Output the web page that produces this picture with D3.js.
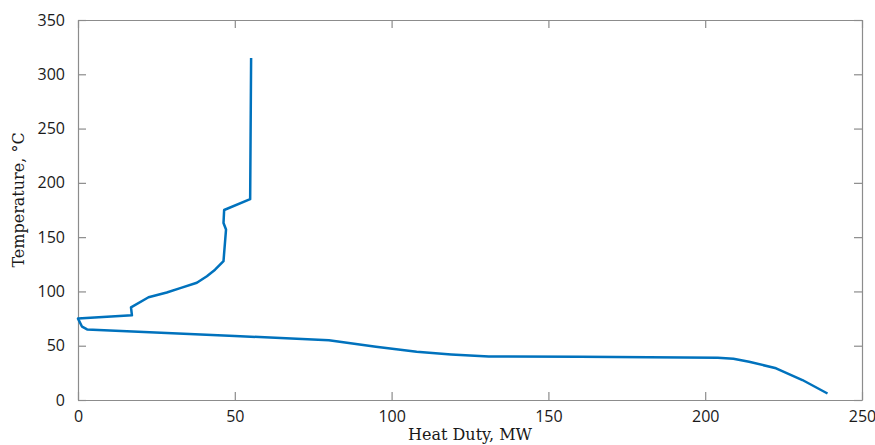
<!DOCTYPE html>
<html>
<head>
<meta charset="utf-8">
<script src="https://cdn.jsdelivr.net/npm/d3@7"></script>
<style>
  body { margin: 0; background: #fff; }
  .tick text { font-family: "Open Sans", "Liberation Sans", sans-serif; font-size: 16px; fill: #1a1a1a; }
  .axis-title { font-family: "DejaVu Serif", "Liberation Serif", serif; font-size: 16px; fill: #1a1a1a; }
</style>
</head>
<body>
<div id="chart"></div>
<script>
// heat duty (MW) and temperature (°C)
var duty = [55.2, 54.9, 46.6, 46.4, 47.2, 46.4, 43.7, 41.1, 37.9, 32.6, 28.3, 22.5, 16.9, 17.2,
            0, 1.3, 2.9, 50, 80, 95, 108, 119, 131, 160, 204, 209, 214, 222.6, 231, 239];
var temp = [315, 185, 175, 163, 157, 128, 120, 114, 108, 103, 99, 94.6, 85.3, 78,
            75, 67.5, 65, 59, 55, 49, 44.5, 42, 40, 39.8, 39, 38, 35.3, 29.2, 18.4, 6];
var xTicks = [0, 50, 100, 150, 200, 250];
var yTicks = [0, 50, 100, 150, 200, 250, 300, 350];

const W = 875, H = 445;
const margin = {left: 78, top: 20, right: 13, bottom: 45};
const width = W - margin.left - margin.right,
      height = H - margin.top - margin.bottom;

var svg = d3.select('#chart').append('svg')
    .attr('width', W)
    .attr('height', H)
    .append('g')
    .attr('transform', `translate(${margin.left}, ${margin.top})`);

var xScale = d3.scaleLinear().domain([0, 250]).range([0, width]);
var yScale = d3.scaleLinear().domain([0, 350]).range([height, 0]);

var axisColor = '#8c8c8c';

function styleAxis(g) {
  g.select('.domain').attr('stroke', axisColor).attr('stroke-width', 1.2);
  g.selectAll('.tick line').attr('stroke', axisColor).attr('stroke-width', 1.2);
}

svg.append('g')
  .attr('transform', `translate(0, ${height})`)
  .call(d3.axisBottom(xScale).tickValues(xTicks).tickSizeInner(-8).tickSizeOuter(0).tickPadding(11))
  .call(styleAxis);

svg.append('g')
  .call(d3.axisLeft(yScale).tickValues(yTicks).tickSizeInner(-8).tickSizeOuter(0).tickPadding(13))
  .call(styleAxis);

svg.append('g')
  .call(d3.axisTop(xScale).tickValues(xTicks).tickSizeInner(-8).tickSizeOuter(0).tickFormat(''))
  .call(styleAxis);

svg.append('g')
  .attr('transform', `translate(${width}, 0)`)
  .call(d3.axisRight(yScale).tickValues(yTicks).tickSizeInner(-8).tickSizeOuter(0).tickFormat(''))
  .call(styleAxis);

var pts = duty.map(function (d, i) { return [d, temp[i]]; });

var valueLine = d3.line()
    .x(function (d) { return xScale(d[0]); })
    .y(function (d) { return yScale(d[1]); });

svg.append('path')
  .datum(pts)
  .attr('fill', 'none')
  .attr('stroke', '#0072BD')
  .attr('stroke-width', 2.5)
  .attr('stroke-linejoin', 'round')
  .attr('d', valueLine);

svg.append('text')
  .attr('class', 'axis-title')
  .attr('x', width / 2)
  .attr('y', height + 40)
  .attr('text-anchor', 'middle')
  .text('Heat Duty, MW');

svg.append('text')
  .attr('class', 'axis-title')
  .attr('transform', `translate(${-54}, ${height / 2 - 10}) rotate(-90)`)
  .attr('text-anchor', 'middle')
  .text('Temperature, °C');
</script>
</body>
</html>
